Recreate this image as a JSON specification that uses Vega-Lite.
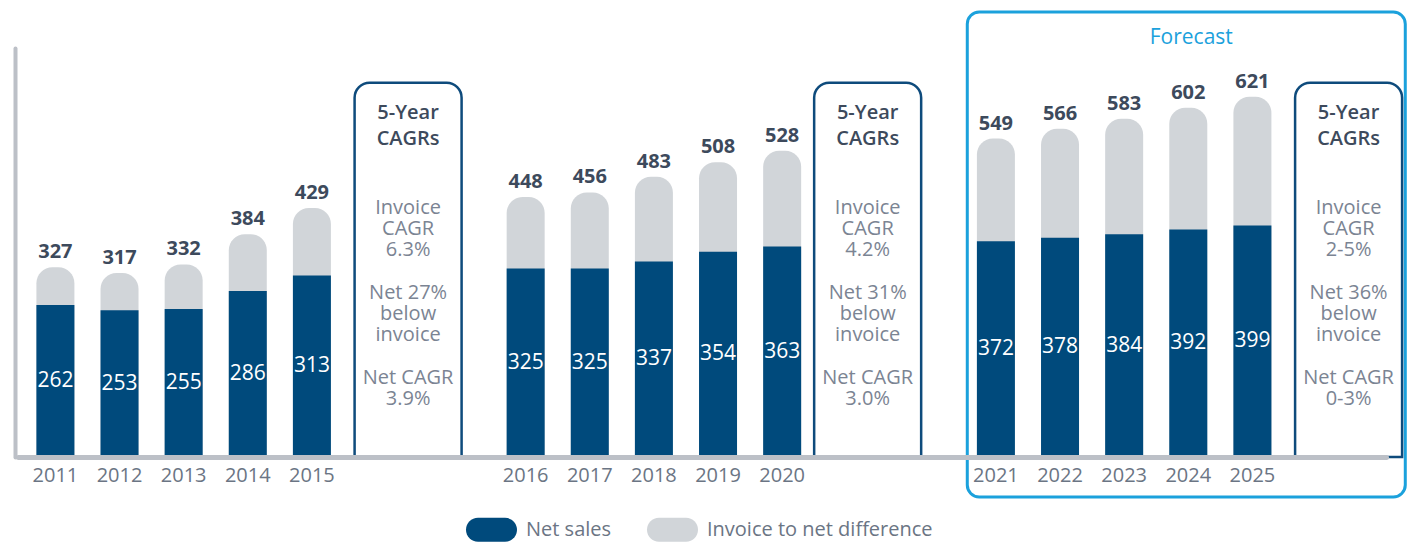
{
  "$schema": "https://vega.github.io/schema/vega-lite/v6.json",
  "width": 1368,
  "height": 409,
  "autosize": {"type": "none"},
  "padding": {"left": 18, "top": 48, "right": 22, "bottom": 85},
  "config": {
    "view": {"stroke": null},
    "font": "Open Sans",
    "axisY": {"ticks": false, "labels": false, "grid": false, "domainColor": "#bcc0c7", "domainWidth": 4, "domainCap": "round", "offset": 3}
  },
  "datasets": {
    "sales": [
      {"slot": "2011", "total": 327, "net": 262},
      {"slot": "2012", "total": 317, "net": 253},
      {"slot": "2013", "total": 332, "net": 255},
      {"slot": "2014", "total": 384, "net": 286},
      {"slot": "2015", "total": 429, "net": 313},
      {"slot": "2016", "total": 448, "net": 325},
      {"slot": "2017", "total": 456, "net": 325},
      {"slot": "2018", "total": 483, "net": 337},
      {"slot": "2019", "total": 508, "net": 354},
      {"slot": "2020", "total": 528, "net": 363},
      {"slot": "2021", "total": 549, "net": 372},
      {"slot": "2022", "total": 566, "net": 378},
      {"slot": "2023", "total": 583, "net": 384},
      {"slot": "2024", "total": 602, "net": 392},
      {"slot": "2025", "total": 621, "net": 399}
    ],
    "boxes": [
      {"slot": "c1", "title": "5-Year\nCAGRs", "invoice": "Invoice\nCAGR\n6.3%", "below": "Net 27%\nbelow\ninvoice", "netcagr": "Net CAGR\n3.9%"},
      {"slot": "c2", "title": "5-Year\nCAGRs", "invoice": "Invoice\nCAGR\n4.2%", "below": "Net 31%\nbelow\ninvoice", "netcagr": "Net CAGR\n3.0%"},
      {"slot": "c3", "title": "5-Year\nCAGRs", "invoice": "Invoice\nCAGR\n2-5%", "below": "Net 36%\nbelow\ninvoice", "netcagr": "Net CAGR\n0-3%"}
    ],
    "forecast": [
      {"slot": "2024", "label": "Forecast"}
    ]
  },
  "encoding": {
    "x": {
      "field": "slot",
      "type": "nominal",
      "sort": null,
      "scale": {
        "type": "band",
        "paddingInner": 0,
        "paddingOuter": 0,
        "domain": ["s0","s1","s2","2011","s4","s5","s6","s7","s8","2012","s10","s11","s12","s13","s14","2013","s16","s17","s18","s19","s20","2014","s22","s23","s24","s25","s26","2015","s28","s29","s30","s31","s32","s33","s34","s35","c1","s37","s38","s39","s40","s41","s42","s43","s44","s45","s46","2016","s48","s49","s50","s51","s52","2017","s54","s55","s56","s57","s58","2018","s60","s61","s62","s63","s64","2019","s66","s67","s68","s69","s70","2020","s72","s73","s74","s75","s76","s77","s78","c2","s80","s81","s82","s83","s84","s85","s86","s87","s88","s89","s90","2021","s92","s93","s94","s95","s96","2022","s98","s99","s100","s101","s102","2023","s104","s105","s106","s107","s108","2024","s110","s111","s112","s113","s114","2025","s116","s117","s118","s119","s120","s121","s122","s123","c3","s125","s126","s127"]
      },
      "axis": {
        "values": ["2011","2012","2013","2014","2015","2016","2017","2018","2019","2020","2021","2022","2023","2024","2025"],
        "title": null,
        "ticks": false,
        "grid": false,
        "labelAngle": 0,
        "labelFontSize": 20,
        "labelColor": "#6b7584",
        "labelPadding": 8,
        "domainColor": "#bcc0c7",
        "domainWidth": 5,
        "domainCap": "round",
        "zindex": 1
      }
    }
  },
  "resolve": {"scale": {"y": "independent"}},
  "layer": [
    {
      "layer": [
        {
          "data": {"name": "forecast"},
          "mark": {"type": "bar", "filled": false, "stroke": "#1ba1dc", "strokeWidth": 3, "cornerRadius": 12, "width": 438, "xOffset": -2, "clip": false},
          "encoding": {
            "y": {"datum": 767, "type": "quantitative", "axis": {"title": null}},
            "y2": {"datum": -69}
          }
        },
        {
          "data": {"name": "forecast"},
          "mark": {"type": "text", "color": "#1ba1dc", "fontSize": 21, "baseline": "alphabetic", "dx": 3},
          "encoding": {
            "y": {"datum": 712, "type": "quantitative", "axis": {"title": null}},
            "text": {"field": "label"}
          }
        },
        {
          "data": {"name": "boxes"},
          "mark": {"type": "bar", "filled": false, "stroke": "#0e4b7c", "strokeWidth": 2.5, "cornerRadiusTopLeft": 15, "cornerRadiusTopRight": 15, "width": 107},
          "encoding": {
            "y": {"datum": 645, "type": "quantitative", "axis": {"title": null}},
            "y2": {"datum": 0}
          }
        },
        {
          "data": {"name": "sales"},
          "mark": {"type": "bar", "width": 38, "cornerRadiusTopLeft": 16, "cornerRadiusTopRight": 16},
          "encoding": {
            "y": {
              "field": "total", "type": "quantitative", "stack": null,
              "scale": {"domain": [0, 705], "nice": false, "zero": true},
              "axis": {"title": null}
            },
            "color": {
              "datum": "Invoice to net difference",
              "type": "nominal",
              "scale": {"domain": ["Net sales", "Invoice to net difference"], "range": ["#004a7c", "#d1d5d9"]},
              "legend": {
                "title": null,
                "orient": "none",
                "legendX": 448,
                "legendY": 456,
                "direction": "horizontal",
                "symbolType": "M-0.53,-0.47H0.53A0.47,0.47,0,0,1,0.53,0.47H-0.53A0.47,0.47,0,0,1,-0.53,-0.47Z",
                "symbolSize": 2601,
                "symbolStrokeWidth": 0,
                "symbolOpacity": 1,
                "labelFontSize": 20,
                "labelColor": "#6b7584",
                "labelOffset": 9,
                "labelLimit": 0,
                "columnPadding": 35,
                "padding": 0
              }
            }
          }
        },
        {
          "data": {"name": "sales"},
          "mark": {"type": "bar", "width": 38},
          "encoding": {
            "y": {"field": "net", "type": "quantitative", "stack": null, "axis": {"title": null}},
            "color": {
              "datum": "Net sales",
              "type": "nominal",
              "scale": {"domain": ["Net sales", "Invoice to net difference"], "range": ["#004a7c", "#d1d5d9"]}
            }
          }
        },
        {
          "data": {"name": "sales"},
          "mark": {"type": "text", "fontSize": 20, "fontWeight": "bold", "color": "#3d4a5c", "baseline": "alphabetic", "dy": -9},
          "encoding": {
            "y": {"field": "total", "type": "quantitative", "stack": null, "axis": {"title": null}},
            "text": {"field": "total", "type": "quantitative"}
          }
        },
        {
          "data": {"name": "boxes"},
          "mark": {"type": "text", "fontSize": 20, "fontWeight": 600, "color": "#3d4a5c", "baseline": "alphabetic", "lineBreak": "\n", "lineHeight": 26},
          "encoding": {
            "y": {"datum": 583, "type": "quantitative", "axis": {"title": null}},
            "text": {"field": "title"}
          }
        },
        {
          "data": {"name": "boxes"},
          "mark": {"type": "text", "fontSize": 20, "color": "#7b8493", "baseline": "alphabetic", "lineBreak": "\n", "lineHeight": 21.1},
          "encoding": {
            "y": {"datum": 419, "type": "quantitative", "axis": {"title": null}},
            "text": {"field": "invoice"}
          }
        },
        {
          "data": {"name": "boxes"},
          "mark": {"type": "text", "fontSize": 20, "color": "#7b8493", "baseline": "alphabetic", "lineBreak": "\n", "lineHeight": 21.1},
          "encoding": {
            "y": {"datum": 272, "type": "quantitative", "axis": {"title": null}},
            "text": {"field": "below"}
          }
        },
        {
          "data": {"name": "boxes"},
          "mark": {"type": "text", "fontSize": 20, "color": "#7b8493", "baseline": "alphabetic", "lineBreak": "\n", "lineHeight": 21.1},
          "encoding": {
            "y": {"datum": 126, "type": "quantitative", "axis": {"title": null}},
            "text": {"field": "netcagr"}
          }
        }
      ]
    },
    {
      "data": {"name": "sales"},
      "mark": {"type": "text", "fontSize": 21, "color": "white", "baseline": "middle"},
      "encoding": {
        "y": {"field": "net", "type": "quantitative", "stack": null, "scale": {"domain": [0, 1410], "nice": false}, "axis": null},
        "text": {"field": "net", "type": "quantitative"}
      }
    }
  ]
}
